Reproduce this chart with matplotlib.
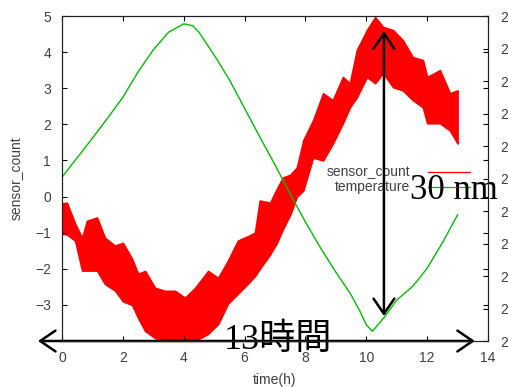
import matplotlib
matplotlib.use('Agg')
import matplotlib.pyplot as plt

# sensor_count band (upper / lower envelope of the noisy trace)
time_sensor = [0.0, 0.16, 0.43, 0.66, 0.82, 1.15, 1.41, 1.74, 2.0, 2.3, 2.5, 2.73,
               3.06, 3.38, 3.71, 4.04, 4.37, 4.8, 5.13, 5.45, 5.78, 6.1, 6.34, 6.5,
               6.84, 7.05, 7.26, 7.5, 7.72, 7.93, 8.25, 8.58, 8.9, 9.23, 9.46, 9.69,
               10.02, 10.29, 10.55, 10.88, 11.2, 11.53, 11.86, 12.0, 12.42, 12.75, 13.0]
sensor_upper = [-0.19, -0.17, -0.75, -1.14, -0.67, -0.58, -1.14, -1.36, -1.28, -1.72, -2.14, -2.06,
                -2.53, -2.61, -2.61, -2.8, -2.53, -2.06, -2.25, -1.78, -1.22, -1.1, -1.0, -0.11,
                -0.17, 0.2, 0.53, 0.6, 0.81, 1.56, 2.11, 2.86, 2.67, 3.31, 3.14, 4.06,
                4.61, 4.97, 4.7, 4.61, 4.33, 3.86, 3.78, 3.31, 3.5, 2.86, 2.94]
sensor_lower = [-1.03, -1.05, -1.22, -2.05, -2.05, -2.05, -2.42, -2.6, -2.9, -3.0, -3.36, -3.72,
                -3.92, -4.0, -4.0, -4.0, -4.0, -3.8, -3.53, -2.97, -2.69, -2.42, -2.2, -2.0,
                -1.6, -1.3, -0.9, -0.5, 0.0, 0.17, 1.08, 1.0, 1.47, 2.03, 2.47, 2.75,
                3.31, 3.14, 3.42, 3.03, 2.94, 2.67, 2.47, 2.03, 2.03, 1.83, 1.47]

# temperature (right axis)
time_temp = [0.0, 0.5, 1.0, 1.5, 2.0, 2.5, 3.0, 3.5, 4.0, 4.3, 4.5, 5.0, 5.5, 6.0, 6.5,
             7.0, 7.5, 8.0, 8.5, 9.0, 9.5, 9.8, 10.0, 10.2, 10.6, 11.0, 11.5, 11.7,
             12.0, 12.5, 13.0]
temperature = [24.52, 24.82, 25.12, 25.43, 25.75, 26.14, 26.48, 26.75, 26.88, 26.85, 26.75,
               26.40, 26.02, 25.58, 25.14, 24.71, 24.26, 23.83, 23.43, 23.06, 22.71, 22.45,
               22.25, 22.15, 22.37, 22.63, 22.83, 22.94, 23.12, 23.51, 23.94]

x_ticks = [0, 2, 4, 6, 8, 10, 12, 14]
y_ticks = [-3, -2, -1, 0, 1, 2, 3, 4, 5]
y2_ticks = [22, 22.5, 23, 23.5, 24, 24.5, 25, 25.5, 26, 26.5, 27]
y2_labels = ['22', '22.5', '23', '23.5', '24', '24.5', '25', '25.5', '26', '26.5', '27']

plt.rcParams['font.family'] = ['Liberation Sans', 'DejaVu Sans']
plt.rcParams['font.size'] = 10
gray = '#404040'

fig = plt.figure(figsize=(5.08, 3.87), dpi=100)
ax = fig.add_axes([62 / 508, 1 - 341 / 387, 426 / 508, 325 / 387])
ax2 = ax.twinx()

ax.fill_between(time_sensor, sensor_lower, sensor_upper, color='#ff0000',
                edgecolor='#ff0000', linewidth=1.2)
ax2.plot(time_temp, temperature, color='#00c000', linewidth=1.0)

ax.set_xlim(0, 14)
ax.set_ylim(-4, 5)
ax2.set_ylim(22, 27)
ax.set_xticks(x_ticks)
ax.set_yticks(y_ticks)
ax2.set_yticks(y2_ticks)
ax2.set_yticklabels(y2_labels)

ax.tick_params(direction='in', length=3.6, top=True, right=True, labelcolor=gray, pad=8)
ax.tick_params(axis='x', pad=7)
ax2.tick_params(direction='in', length=3.6, labelcolor=gray, pad=9)
for a in (ax, ax2):
    for s in a.spines.values():
        s.set_color('#202020')
        s.set_linewidth(0.8)

ax.set_xlabel('time(h)', color=gray, labelpad=6)
ax.set_ylabel('sensor_count', color=gray, labelpad=8)

# gnuplot-style key: right-aligned labels with samples after them
ax.text(0.817, 0.52, 'sensor_count', transform=ax.transAxes, ha='right', va='center', color=gray)
ax.text(0.817, 0.474, 'temperature', transform=ax.transAxes, ha='right', va='center', color=gray)
ax.plot([0.859, 0.958], [0.52, 0.52], transform=ax.transAxes, color='#ff0000', lw=0.9)
ax.plot([0.859, 0.958], [0.474, 0.474], transform=ax.transAxes, color='#00c000', lw=0.9)

# annotations
arrow = dict(arrowstyle='<->,head_length=1.1,head_width=0.75', color='black', lw=1.8,
             shrinkA=0, shrinkB=0)
ax.annotate('', xy=(10.58, 4.58), xytext=(10.58, -3.31), arrowprops=arrow, annotation_clip=False)
ax.annotate('', xy=(-0.79, -4.0), xytext=(13.57, -4.0), arrowprops=arrow, annotation_clip=False)
ax.text(11.44, -0.08, '30 nm', fontsize=25, family=['Liberation Serif', 'DejaVu Serif'],
        color='black', va='baseline', ha='left', zorder=10)
ax.text(5.32, -4.22, '13時間', fontsize=26, family=['Liberation Serif', 'Noto Sans CJK JP'],
        color='black', va='baseline', ha='left', zorder=10)

fig.savefig('out.png', dpi=100)
